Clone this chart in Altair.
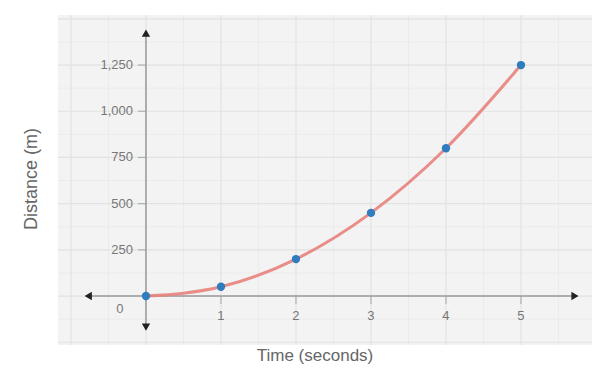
import altair as alt
import pandas as pd

# ---- data ----
time_s = [0, 1, 2, 3, 4, 5]
distance_m = [0, 50, 200, 450, 800, 1250]
x_tick_values = [1, 2, 3, 4, 5]
y_tick_values = [250, 500, 750, 1000, 1250]
x_grid_major = [-1, 0, 1, 2, 3, 4, 5]
x_grid_minor = [-0.5, 0.5, 1.5, 2.5, 3.5, 4.5, 5.5]
y_grid_major = [-250, 0, 250, 500, 750, 1000, 1250, 1500]
y_grid_minor = [-125, 125, 375, 625, 875, 1125, 1375]
x_axis_ends = [-0.77, 5.72]
y_axis_ends = [-168, 1423]
x_title = "Time (seconds)"
y_title = "Distance (m)"

X_DOMAIN = [-1.173, 5.947]
Y_DOMAIN = [-265, 1521]

xs = alt.Scale(domain=X_DOMAIN, nice=False, zero=False)
ys = alt.Scale(domain=Y_DOMAIN, nice=False, zero=False)

pts = pd.DataFrame({"t": time_s, "d": distance_m})

def X(f):
    return alt.X(f, scale=xs, axis=None)

def Y(f):
    return alt.Y(f, scale=ys, axis=None)

# background grid
gx_major = alt.Chart(pd.DataFrame({"x": x_grid_major})).mark_rule(color="#e2e2e2", strokeWidth=1.2).encode(x=X("x:Q"))
gx_minor = alt.Chart(pd.DataFrame({"x": x_grid_minor})).mark_rule(color="#ebebeb", strokeWidth=1).encode(x=X("x:Q"))
gy_major = alt.Chart(pd.DataFrame({"y": y_grid_major})).mark_rule(color="#e2e2e2", strokeWidth=1.2).encode(y=Y("y:Q"))
gy_minor = alt.Chart(pd.DataFrame({"y": y_grid_minor})).mark_rule(color="#ebebeb", strokeWidth=1).encode(y=Y("y:Q"))

# axis lines through the origin
x_line = alt.Chart(pd.DataFrame({"x": [x_axis_ends[0]], "x2": [x_axis_ends[1]], "y": [0]})).mark_rule(
    color="#9a9a9a", strokeWidth=1.5).encode(x=X("x:Q"), x2="x2:Q", y=Y("y:Q"))
y_line = alt.Chart(pd.DataFrame({"y": [y_axis_ends[0]], "y2": [y_axis_ends[1]], "x": [0]})).mark_rule(
    color="#9a9a9a", strokeWidth=1.5).encode(y=Y("y:Q"), y2="y2:Q", x=X("x:Q"))

arrows = pd.DataFrame({
    "x": [x_axis_ends[0], x_axis_ends[1], 0, 0],
    "y": [0, 0, y_axis_ends[1], y_axis_ends[0]],
    "shape": ["triangle-left", "triangle-right", "triangle-up", "triangle-down"],
})
arrow_marks = alt.Chart(arrows).mark_point(filled=True, color="#222", size=70, opacity=1).encode(
    x=X("x:Q"), y=Y("y:Q"), shape=alt.Shape("shape:N", scale=None, legend=None))

# tick marks and labels
xt = pd.DataFrame({"x": x_tick_values, "y": [0] * len(x_tick_values)})
x_ticks = alt.Chart(xt).mark_tick(orient="vertical", color="#9a9a9a", size=8, thickness=1.2, yOffset=4).encode(
    x=X("x:Q"), y=Y("y:Q"))
x_labels = alt.Chart(xt).mark_text(dy=20, fontSize=13, color="#777", font="Liberation Sans").encode(
    x=X("x:Q"), y=Y("y:Q"), text=alt.Text("x:Q"))

yt = pd.DataFrame({"y": y_tick_values, "x": [0] * len(y_tick_values)})
y_ticks = alt.Chart(yt).mark_tick(orient="horizontal", color="#9a9a9a", size=8, thickness=1.2, xOffset=-4).encode(
    x=X("x:Q"), y=Y("y:Q"))
y_labels = alt.Chart(yt).mark_text(dx=-13, align="right", baseline="middle", fontSize=13, color="#777",
                                  font="Liberation Sans").encode(
    x=X("x:Q"), y=Y("y:Q"), text=alt.Text("y:Q", format=","))

zero_label = alt.Chart(pd.DataFrame({"x": [0], "y": [0], "t": ["0"]})).mark_text(
    dx=-26, dy=13, fontSize=13, color="#777", font="Liberation Sans"
).encode(x=X("x:Q"), y=Y("y:Q"), text="t:N")

# axis titles
xt_mark = alt.Chart(pd.DataFrame({"t": [x_title]})).mark_text(
    fontSize=17, color="#666", font="Liberation Sans", baseline="middle").encode(
    x=alt.value(257), y=alt.value(341), text="t:N")
yt_mark = alt.Chart(pd.DataFrame({"t": [y_title]})).mark_text(
    fontSize=18, color="#666", font="Liberation Sans", angle=270, baseline="middle").encode(
    x=alt.value(-26), y=alt.value(164), text="t:N")

# data
curve = alt.Chart(pts).mark_line(color="#e8827c", strokeWidth=3, interpolate="monotone", opacity=0.9).encode(
    x=X("t:Q"), y=Y("d:Q"))
dots = alt.Chart(pts).mark_point(filled=True, color="#2f7cbf", size=70, opacity=1).encode(
    x=X("t:Q"), y=Y("d:Q"))

chart = alt.layer(
    gx_minor, gy_minor, gx_major, gy_major,
    x_line, y_line, x_ticks, y_ticks, arrow_marks,
    x_labels, y_labels, zero_label, xt_mark, yt_mark,
    curve, dots,
).properties(
    width=534, height=330,
    padding={"left": 50, "top": 7, "right": 0, "bottom": 31},
    autosize="none",
).configure_view(fill="#f3f3f3", stroke=None, clip=False)

chart.save("out.html", embed_options={"renderer": "svg", "actions": False})
